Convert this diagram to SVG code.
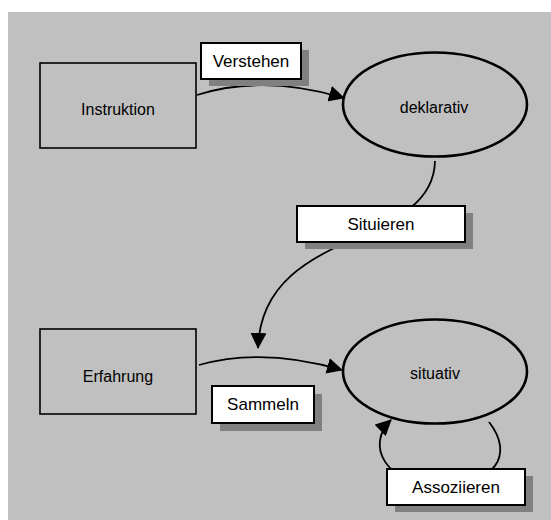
<svg xmlns="http://www.w3.org/2000/svg" width="551" height="520" viewBox="0 0 551 520">
<style>
.node{fill:none;stroke:#000;stroke-width:1.6}
.ell{fill:none;stroke:#000;stroke-width:2.6}
.conn{fill:none;stroke:#000;stroke-width:1.8}
.shadow{fill:#808080}
.lbl{fill:#fff;stroke:#000;stroke-width:2}
text{font-family:"Liberation Sans",Arial,sans-serif;fill:#000;text-anchor:middle}
.nt{font-size:16px}
.lt{font-size:17px}
</style>
<defs>
<marker id="arr" markerUnits="userSpaceOnUse" markerWidth="16" markerHeight="16" refX="15" refY="8" orient="auto">
<path d="M0,0 L16,8 L0,16 z" fill="#000"/>
</marker>
</defs>
<rect x="8" y="12" width="543" height="508" fill="#C0C0C0"/>
<g id="instruktion">
<rect class="node" x="40" y="63" width="156" height="85"/>
<text class="nt" x="118" y="115">Instruktion</text>
</g>
<g id="deklarativ">
<ellipse class="ell" cx="435" cy="104.5" rx="92" ry="52"/>
<text class="nt" x="434" y="113">deklarativ</text>
</g>
<g id="erfahrung">
<rect class="node" x="40" y="329" width="156" height="85"/>
<text class="nt" x="118" y="382">Erfahrung</text>
</g>
<g id="situativ">
<ellipse class="ell" cx="435" cy="371.5" rx="92" ry="52"/>
<text class="nt" x="435" y="379">situativ</text>
</g>
<g id="connectors">
<path class="conn" d="M197,95 Q263,74 344,98" marker-end="url(#arr)"/>
<path class="conn" d="M435,161 C433,250 262,225 258,348" marker-end="url(#arr)"/>
<path class="conn" d="M199,365 Q263,347 342,370" marker-end="url(#arr)"/>
<path class="conn" d="M489,422 C515,455 495,485 440,485 C385,485 365,445 391,420" marker-end="url(#arr)"/>
</g>
<g id="label-verstehen">
<rect class="shadow" x="209" y="50" width="100" height="36"/>
<rect class="lbl" x="201" y="43" width="100" height="36"/>
<text class="lt" x="251" y="67">Verstehen</text>
</g>
<g id="label-situieren">
<rect class="shadow" x="305" y="213" width="168" height="36"/>
<rect class="lbl" x="297" y="206" width="168" height="36"/>
<text class="lt" x="381" y="230">Situieren</text>
</g>
<g id="label-sammeln">
<rect class="shadow" x="220" y="394" width="102" height="37"/>
<rect class="lbl" x="212" y="386" width="102" height="37"/>
<text class="lt" x="263" y="410">Sammeln</text>
</g>
<g id="label-assoziieren">
<rect class="shadow" x="395" y="476" width="138" height="36"/>
<rect class="lbl" x="387" y="469" width="138" height="36"/>
<text class="lt" x="456" y="493">Assoziieren</text>
</g>
</svg>
